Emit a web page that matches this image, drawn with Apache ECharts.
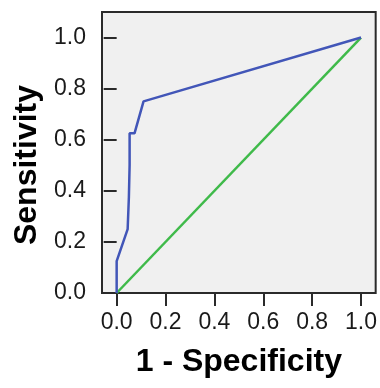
<!DOCTYPE html>
<html>
<head>
<meta charset="utf-8">
<script src="https://cdn.jsdelivr.net/npm/echarts@6/dist/echarts.min.js"></script>
<style>
  html, body { margin: 0; padding: 0; background: #fff; }
  #chart { width: 380px; height: 388px; }
</style>
</head>
<body>
<div id="chart"></div>
<script>
// ROC curve
const fpr = [0, 0, 0.045, 0.05, 0.053, 0.053, 0.073, 0.11, 1];
const tpr = [0, 0.125, 0.25, 0.375, 0.5, 0.625, 0.625, 0.75, 1];
const refX = [0, 1];
const refY = [0, 1];
const ticks = [0, 0.2, 0.4, 0.6, 0.8, 1.0];

const font = "'Liberation Sans', Arial, sans-serif";
const axisColor = '#2a2a2a';

const chart = echarts.init(document.getElementById('chart'));
chart.setOption({
  animation: false,
  grid: {
    left: 102, right: 4, top: 12, bottom: 95,
    show: true,
    backgroundColor: '#f0f0f0',
    borderColor: axisColor,
    borderWidth: 2
  },
  xAxis: {
    type: 'value',
    min: -0.06, max: 1.06,
    name: '1 - Specificity',
    nameLocation: 'middle',
    nameGap: 53,
    nameTextStyle: { fontFamily: font, fontSize: 32, fontWeight: 'bold', color: '#000' },
    splitLine: { show: false },
    axisLine: { show: false },
    axisTick: {
      show: true, length: 13, customValues: ticks,
      lineStyle: { color: axisColor, width: 2 }
    },
    axisLabel: {
      customValues: ticks, margin: 18,
      fontFamily: font, fontSize: 23, color: '#1a1a1a',
      formatter: v => v.toFixed(1)
    }
  },
  yAxis: {
    type: 'value',
    min: 0, max: 1.1,
    name: 'Sensitivity',
    nameLocation: 'middle',
    nameGap: 57,
    nameTextStyle: { fontFamily: font, fontSize: 32, fontWeight: 'bold', color: '#000', padding: [0, 25, 0, 0] },
    splitLine: { show: false },
    axisLine: { show: false },
    axisTick: {
      show: true, length: 13, customValues: ticks,
      lineStyle: { color: axisColor, width: 2 }
    },
    axisLabel: {
      customValues: ticks, margin: 16,
      fontFamily: font, fontSize: 23, color: '#1a1a1a',
      formatter: v => v.toFixed(1)
    }
  },
  series: [
    {
      type: 'line',
      data: fpr.map((x, i) => [x, tpr[i]]),
      showSymbol: false,
      lineStyle: { color: '#4256b8', width: 2.5 },
      z: 3
    },
    {
      type: 'line',
      data: refX.map((x, i) => [x, refY[i]]),
      showSymbol: false,
      lineStyle: { color: '#3fba4a', width: 2.5 },
      z: 2
    }
  ]
});
</script>
</body>
</html>
